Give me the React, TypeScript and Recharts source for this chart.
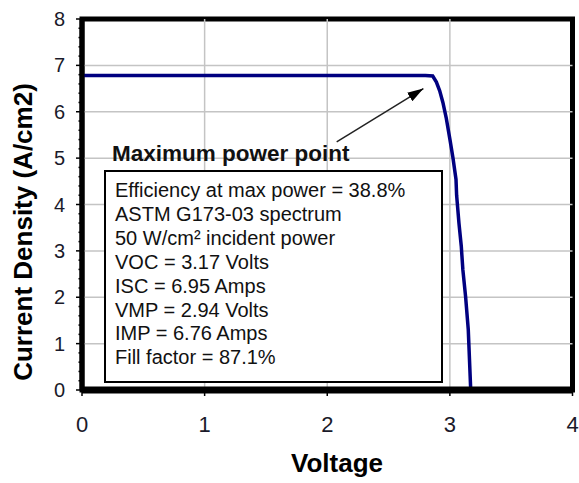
import React from "react";
import { LineChart, Line, XAxis, YAxis, ReferenceLine, ReferenceArea } from "recharts";

const voltage = [0, 0.5, 1, 1.5, 2, 2.5, 2.8, 2.86, 2.89, 2.917, 2.943, 2.97, 3.0, 3.025, 3.05, 3.055, 3.074, 3.093, 3.106, 3.128, 3.15, 3.17];
const current = [6.78, 6.78, 6.78, 6.78, 6.78, 6.78, 6.78, 6.77, 6.64, 6.45, 6.2, 5.87, 5.41, 5.01, 4.54, 4.2, 3.6, 3.1, 2.59, 2.02, 1.3, 0];

const arrowV = [2.077, 2.784];
const arrowI = [5.35, 6.5];

const xTicks = [0, 1, 2, 3, 4];
const yTicks = [0, 1, 2, 3, 4, 5, 6, 7, 8];
const yMinorTicks = Array.from({ length: 41 }, (_, i) => i / 5);
const xGrid = [1, 2, 3];
const yGrid = [1, 2, 3, 4, 5, 6, 7];

const boxTitle = "Maximum power point";
const boxLines = [
  "Efficiency at max power = 38.8%",
  "ASTM G173-03 spectrum",
  "50 W/cm² incident power",
  "VOC = 3.17 Volts",
  "ISC = 6.95 Amps",
  "VMP = 2.94 Volts",
  "IMP = 6.76 Amps",
  "Fill factor = 87.1%",
];

const curveData = voltage.map((v, i) => ({ v, i: current[i] }));
const arrowData = arrowV.map((v, i) => ({ v, i: arrowI[i] }));

const FONT = "'Liberation Sans', Arial, sans-serif";

const YTick = (props: any) => {
  const { x, y, payload } = props;
  const val = payload.value;
  const major = Number.isInteger(val);
  return (
    <g>
      <line x1={x - (major ? 6 : 3.5)} x2={x} y1={y} y2={y} stroke="#000" strokeWidth={1.5} />
      {major && yTicks.includes(val) ? (
        <text x={x - 17} y={y} dy="0.35em" textAnchor="end" fontSize={20} fontFamily={FONT} fill="#1a1a2a">
          {val}
        </text>
      ) : null}
    </g>
  );
};

export default function App() {
  return (
    <div style={{ position: "absolute", left: 0, top: 0, width: 579, height: 483, background: "#fff", fontFamily: FONT }}>
      <svg width={0} height={0} style={{ position: "absolute" }}>
        <defs>
          <marker id="mppArrow" markerUnits="userSpaceOnUse" markerWidth={17} markerHeight={11} refX={16} refY={5} orient="auto">
            <path d="M0,0 L16,5 L0,10 z" fill="#000" />
          </marker>
        </defs>
      </svg>
      <LineChart width={579} height={483} margin={{ top: 19, right: 6.5, left: 0, bottom: 53 }}>
        <XAxis
          type="number"
          dataKey="v"
          domain={[0, 4]}
          ticks={xTicks}
          interval={0}
          height={40}
          tickSize={6}
          tickMargin={20}
          axisLine={{ stroke: "#000", strokeWidth: 7 }}
          tickLine={{ stroke: "#000", strokeWidth: 1.5 }}
          tick={{ fill: "#1a1a2a", fontSize: 22, fontFamily: FONT }}
          allowDuplicatedCategory={false}
        />
        <YAxis
          type="number"
          dataKey="i"
          domain={[0, 8]}
          ticks={yMinorTicks}
          interval={0}
          width={82}
          tickSize={0}
          tickMargin={0}
          tickLine={false}
          axisLine={{ stroke: "#000", strokeWidth: 5 }}
          tick={<YTick />}
        />
        {yGrid.map((g) => (
          <ReferenceLine key={"h" + g} y={g} stroke="#c4c4c4" strokeWidth={1.5} />
        ))}
        {xGrid.map((g) => (
          <ReferenceLine key={"v" + g} x={g} stroke="#c4c4c4" strokeWidth={1.5} />
        ))}
        <ReferenceArea x1={0} x2={4} y1={0} y2={8} fill="none" stroke="#000" strokeWidth={5} />
        <Line
          data={curveData}
          dataKey="i"
          type="linear"
          stroke="#000080"
          strokeWidth={3.5}
          dot={false}
          activeDot={false}
          isAnimationActive={false}
        />
        <Line
          data={arrowData}
          dataKey="i"
          type="linear"
          stroke="#222"
          strokeWidth={1.5}
          dot={false}
          activeDot={false}
          markerEnd="url(#mppArrow)"
          isAnimationActive={false}
        />
      </LineChart>

      <div
        style={{
          position: "absolute",
          left: 112,
          top: 140,
          fontSize: 22.5,
          fontWeight: "bold",
          lineHeight: "28px",
          color: "#111",
          whiteSpace: "nowrap",
        }}
      >
        {boxTitle}
      </div>
      <div
        style={{
          position: "absolute",
          left: 104,
          top: 170,
          width: 339,
          height: 213,
          boxSizing: "border-box",
          border: "2px solid #000",
          background: "#fff",
          paddingTop: 7,
          paddingLeft: 9,
          fontSize: 20,
          lineHeight: "23.9px",
          color: "#111",
          whiteSpace: "nowrap",
        }}
      >
        {boxLines.map((t) => (
          <div key={t}>{t}</div>
        ))}
      </div>

      <div
        style={{
          position: "absolute",
          left: 22.5 - 200,
          top: 232 - 17,
          width: 400,
          height: 34,
          lineHeight: "34px",
          textAlign: "center",
          fontSize: 26,
          fontWeight: "bold",
          color: "#000",
          transform: "rotate(-90deg)",
          whiteSpace: "nowrap",
        }}
      >
        Current Density (A/cm2)
      </div>
      <div
        style={{
          position: "absolute",
          left: 337 - 100,
          top: 463 - 17,
          width: 200,
          height: 34,
          lineHeight: "34px",
          textAlign: "center",
          fontSize: 26,
          fontWeight: "bold",
          color: "#000",
          whiteSpace: "nowrap",
        }}
      >
        Voltage
      </div>
    </div>
  );
}
